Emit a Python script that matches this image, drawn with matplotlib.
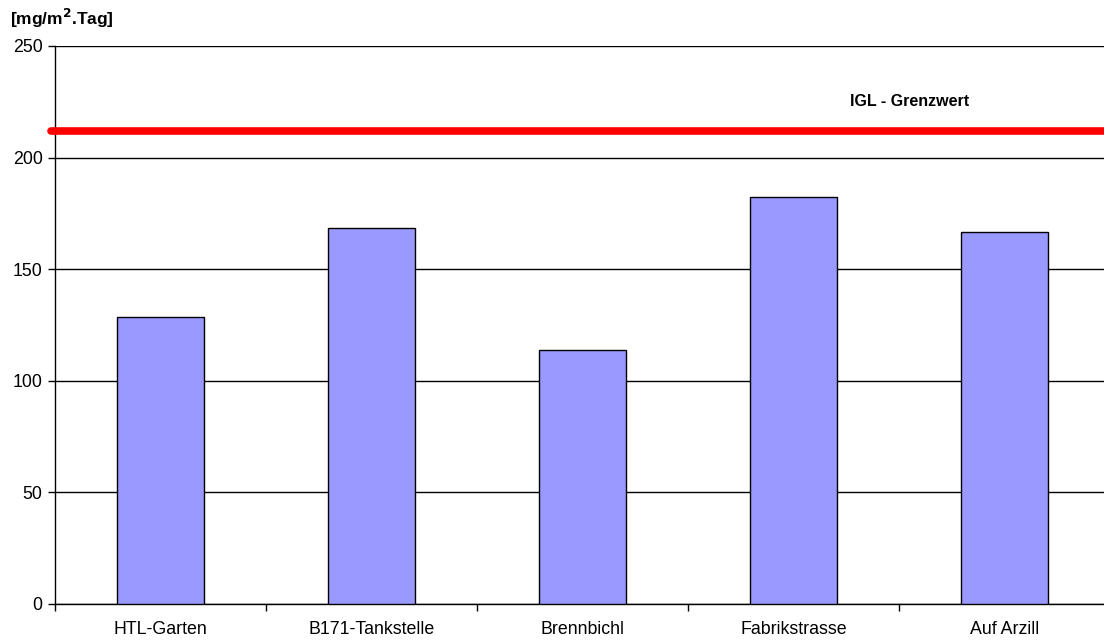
import numpy as np
import matplotlib
matplotlib.use("Agg")
import matplotlib.pyplot as plt

plt.rcParams['font.family'] = ['Liberation Sans', 'DejaVu Sans']

# data
stations = ["HTL-Garten", "B171-Tankstelle", "Brennbichl", "Fabrikstrasse", "Auf Arzill"]
values = [128.6, 168.5, 113.8, 182.3, 166.7]
grenzwert = 212
yticks = [0, 50, 100, 150, 200, 250]

fig = plt.figure(figsize=(11.04, 6.43), dpi=100)
W, H = 1104, 643
ax = fig.add_axes([55 / W, (H - 604) / H, 1055 / W, 558 / H])

x = np.arange(len(stations))
ax.bar(x, values, width=0.41, color="#9999ff", edgecolor="black", linewidth=1, zorder=3)

ax.set_xlim(-0.5, len(stations) - 0.5)
ax.set_ylim(0, 250)
ax.set_yticks(yticks)
ax.grid(axis="y", color="black", linewidth=1, zorder=0)

# x ticks sit at the category borders
ax.set_xticks(np.arange(len(stations) + 1) - 0.5)
ax.set_xticklabels([])
ax.set_xticks(x, minor=True)
ax.set_xticklabels(stations, minor=True)
ax.tick_params(axis="x", which="minor", length=0, pad=12, labelsize=12.8)
ax.tick_params(axis="x", which="major", length=5, width=1, direction="out")
ax.tick_params(axis="y", length=5, width=1, direction="out", labelsize=12.8, pad=4)

for s in ["top", "right"]:
    ax.spines[s].set_visible(False)
ax.spines["left"].set_linewidth(1)
ax.spines["bottom"].set_linewidth(1)

# limit line
ax.plot([-0.52, 4.6], [grenzwert, grenzwert], color="#ff0000", linewidth=5.5,
        solid_capstyle="round", clip_on=False, zorder=4)
ax.text(3.55, 225, "IGL - Grenzwert", fontsize=11.5, fontweight="bold", ha="center", va="center")

fig.text(10 / W, 1 - 18 / H, "[mg/m$^\\mathbf{2}$.Tag]", fontsize=12.5, fontweight="bold",
         ha="left", va="center")

fig.savefig("out.png", dpi=100)
